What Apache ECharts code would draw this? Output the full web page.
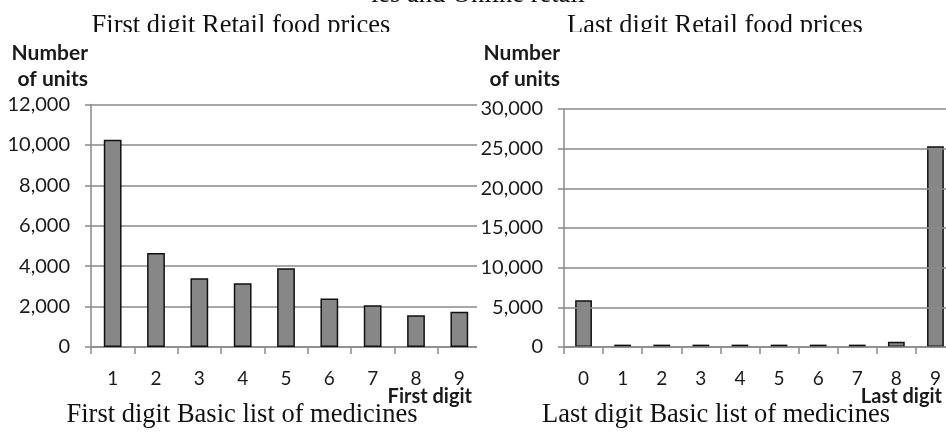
<!DOCTYPE html>
<html>
<head>
<meta charset="utf-8">
<script src="https://cdn.jsdelivr.net/npm/echarts@6/dist/echarts.min.js"></script>
<style>
  html, body { margin: 0; padding: 0; background: #fff; overflow: hidden; }
  /* 右图在原图中被裁掉一截，画布比窗口略宽 */
  #chart { width: 960px; height: 433px; }
</style>
</head>
<body>
<div id="chart"></div>
<script>
// 数据
const firstDigits = ['1', '2', '3', '4', '5', '6', '7', '8', '9'];
const firstCounts = [10250, 4650, 3400, 3150, 3900, 2400, 2070, 1570, 1750];
const lastDigits = ['0', '1', '2', '3', '4', '5', '6', '7', '8', '9'];
const lastCounts = [5900, 300, 300, 300, 300, 300, 300, 300, 670, 25300];
const firstTicks = [0, 2000, 4000, 6000, 8000, 10000, 12000];
const lastTicks = [0, 5000, 10000, 15000, 20000, 25000, 30000];

const sans = 'Lato';
const serif = 'Liberation Serif';
const gray = '#878787';
const lineGray = '#8a8a8a';
const fmt = (v) => String(v).replace(/\B(?=(\d{3})+(?!\d))/g, ',');

function valueAxis(idx, ticks, nameRight, nameGap, z) {
  return {
    type: 'value',
    gridIndex: idx,
    min: ticks[0],
    max: ticks[ticks.length - 1],
    interval: ticks[1] - ticks[0],
    z: z,
    name: 'Number\nof units',
    nameLocation: 'end',
    nameGap: nameGap,
    nameMoveOverlap: false,
    nameTextStyle: {
      fontFamily: sans, fontWeight: 'bold', fontSize: 21, color: '#1a1a1a',
      align: 'right', verticalAlign: 'bottom', lineHeight: 26,
      padding: [0, nameRight, 0, 0]
    },
    axisLine: { show: true, lineStyle: { color: lineGray, width: 1.5 } },
    axisTick: { show: true, length: 6, lineStyle: { color: lineGray, width: 1.5 } },
    splitLine: { show: true, lineStyle: { color: lineGray, width: 1.5 } },
    axisLabel: {
      margin: 21, fontFamily: sans, fontSize: 20, color: '#1a1a1a',
      formatter: fmt
    }
  };
}

function catAxis(idx, cats) {
  return {
    type: 'category',
    gridIndex: idx,
    data: cats,
    boundaryGap: true,
    axisLine: { show: true, lineStyle: { color: lineGray, width: 1.5 } },
    axisTick: { show: true, length: 7, lineStyle: { color: lineGray, width: 1.5 } },
    axisLabel: { margin: 22, fontFamily: sans, fontSize: 19, color: '#1a1a1a' }
  };
}

function caption(text, x, y) {
  return {
    type: 'text', x: x, y: y, z: 50,
    style: { text: text, fontFamily: serif, fontSize: 26.5, fill: '#111', align: 'center', verticalAlign: 'top' }
  };
}

// x 轴名称放在轴末端下方，右对齐
function axisTitle(text, x) {
  return {
    type: 'text', x: x, y: 387, z: 50,
    style: { text: text, fontFamily: sans, fontWeight: 'bold', fontSize: 20, fill: '#1a1a1a', align: 'right', verticalAlign: 'top' }
  };
}

const chart = echarts.init(document.getElementById('chart'));
chart.setOption({
  backgroundColor: '#fff',
  animation: false,
  grid: [
    { left: 91, top: 104.5, width: 390, height: 242.5, outerBoundsMode: 'none' },
    { left: 564, top: 109, width: 391, height: 238, outerBoundsMode: 'none' }
  ],
  xAxis: [
    catAxis(0, firstDigits),
    catAxis(1, lastDigits)
  ],
  yAxis: [
    valueAxis(0, firstTicks, 3, 12, 0),
    valueAxis(1, lastTicks, 4, 16.5, 5)
  ],
  series: [
    {
      type: 'bar', xAxisIndex: 0, yAxisIndex: 0, data: firstCounts, barWidth: '41%',
      itemStyle: { color: gray, borderColor: '#111', borderWidth: 1.5 }
    },
    {
      type: 'bar', xAxisIndex: 1, yAxisIndex: 1, data: lastCounts, barWidth: '43%',
      itemStyle: { color: gray, borderColor: '#111', borderWidth: 1.5 }
    }
  ],
  graphic: [
    // 右图背景盖住左图网格线的尾部
    { type: 'rect', z: 1, shape: { x: 477, y: 95, width: 86, height: 260 }, style: { fill: '#fff' } },
    caption('ies and Online retail', 478, -18),
    caption('First digit Retail food prices', 241, 13),
    caption('Last digit Retail food prices', 715, 13),
    // 标题下沿被裁掉
    { type: 'rect', z: 60, shape: { x: 0, y: 32, width: 960, height: 8 }, style: { fill: '#fff' } },
    axisTitle('First digit', 472),
    axisTitle('Last digit', 942),
    caption('First digit Basic list of medicines', 242, 402),
    caption('Last digit Basic list of medicines', 716, 402)
  ]
});
</script>
</body>
</html>
